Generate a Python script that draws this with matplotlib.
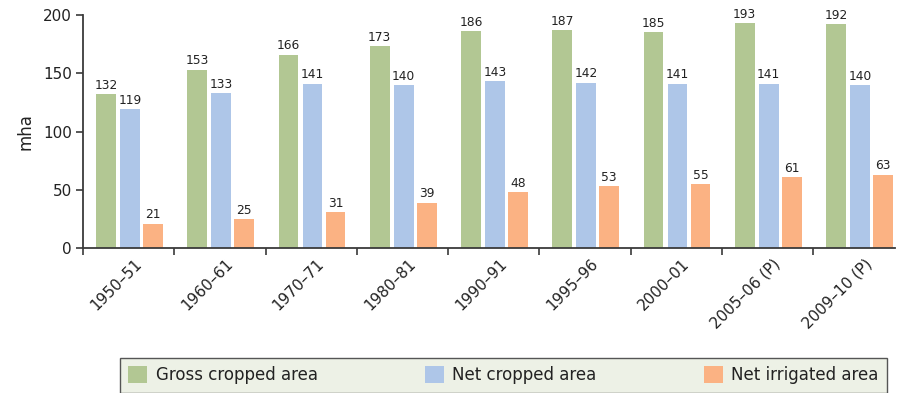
import matplotlib
matplotlib.use("Agg")
import matplotlib.pyplot as plt
import numpy as np

categories = ["1950–51", "1960–61", "1970–71", "1980–81", "1990–91",
              "1995–96", "2000–01", "2005–06 (P)", "2009–10 (P)"]
gross_cropped = [132, 153, 166, 173, 186, 187, 185, 193, 192]
net_cropped = [119, 133, 141, 140, 143, 142, 141, 141, 140]
net_irrigated = [21, 25, 31, 39, 48, 53, 55, 61, 63]
series_names = ["Gross cropped area", "Net cropped area", "Net irrigated area"]
y_ticks = [0, 50, 100, 150, 200]

colors = ["#b2c793", "#aec6e8", "#fbb283"]
axis_color = "#3a3a3a"
text_color = "#222222"

plt.rcParams['font.family'] = ['DejaVu Sans']

fig = plt.figure(figsize=(8.99, 3.93), dpi=100)
ax = fig.add_axes([83/899, (393-248)/393, 812/899, 233/393])

x = np.arange(len(categories))
offsets = [-0.248, 0.015, 0.267]
width = 0.215
series = [gross_cropped, net_cropped, net_irrigated]
for vals, off, col, name in zip(series, offsets, colors, series_names):
    bars = ax.bar(x + off, vals, width=width, color=col, label=name, zorder=2)
    for b, v in zip(bars, vals):
        ax.text(b.get_x() + b.get_width()/2, v + 2, str(v), ha='center', va='bottom',
                fontsize=8.8, color=text_color)

ax.set_xlim(-0.5, -0.5 + 812/91.25)
ax.set_ylim(0, 200)
ax.set_yticks(y_ticks)
ax.set_yticklabels([str(t) for t in y_ticks], fontsize=11, color=text_color)

ax.set_xticks(x - 0.5)
ax.set_xticklabels([])
ax.set_xticks(x + 0.06, minor=True)
ax.set_xticklabels(categories, minor=True, rotation=45, ha='right',
                   rotation_mode='anchor', fontsize=11, color=text_color)
ax.tick_params(axis='x', which='minor', length=0, pad=6)
ax.tick_params(axis='both', which='major', length=5, width=1.2, color=axis_color, pad=3)

for s in ['top', 'right']:
    ax.spines[s].set_visible(False)
for s in ['left', 'bottom']:
    ax.spines[s].set_color(axis_color)
    ax.spines[s].set_linewidth(1.3)

ax.set_ylabel("mha", fontsize=12, color=text_color, labelpad=6)

leg = fig.legend(loc='center', ncol=3, mode='expand',
                 bbox_to_anchor=(120/899, -0.012, 767/899, 0.114),
                 bbox_transform=fig.transFigure, borderaxespad=0,
                 fontsize=12, handlelength=1.15, handleheight=1.15,
                 handletextpad=0.5, fancybox=False, framealpha=1,
                 borderpad=0.5)
leg.get_frame().set_facecolor("#edf1e6")
leg.get_frame().set_edgecolor("#555555")
leg.get_frame().set_linewidth(1.0)
for t in leg.get_texts():
    t.set_color(text_color)

fig.savefig("out.png", dpi=100)
